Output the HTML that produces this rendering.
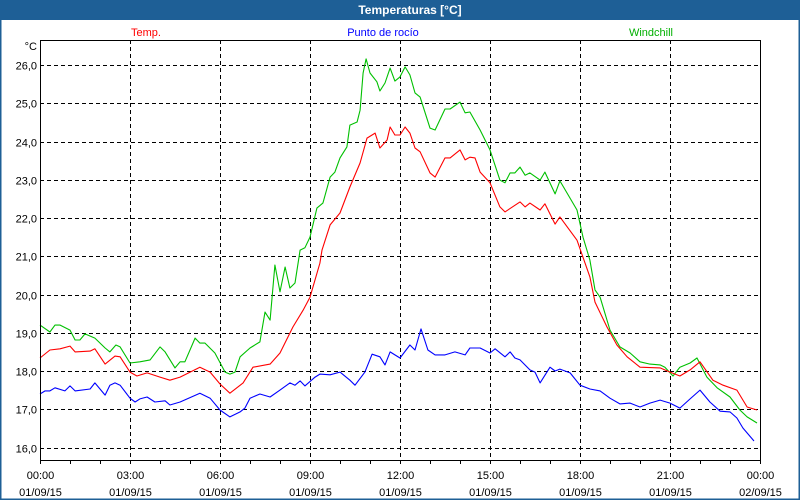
<!DOCTYPE html>
<html><head><meta charset="utf-8"><style>
html,body{margin:0;padding:0;background:#fff;}
#wrap{position:relative;width:800px;height:500px;overflow:hidden;font-family:"Liberation Sans",sans-serif;}
</style></head><body>
<div id="wrap">
<svg id="chart" width="800" height="500" xmlns="http://www.w3.org/2000/svg">
  <rect x="0" y="0" width="800" height="500" fill="#fff"/>
  <rect x="0.5" y="0.5" width="799" height="499" fill="none" stroke="#1e5f96" stroke-width="2"/>
  <rect x="0" y="0" width="800" height="20" fill="#1e5f96"/>
  <text x="410" y="14" text-anchor="middle" font-size="12" font-weight="bold" fill="#fff">Temperaturas [°C]</text>
  <text x="146" y="36" text-anchor="middle" font-size="11" fill="#ff0000">Temp.</text>
  <text x="383" y="36" text-anchor="middle" font-size="11" fill="#0000ff">Punto de rocío</text>
  <text x="651" y="36" text-anchor="middle" font-size="11" fill="#00b000">Windchill</text>
  <text x="37" y="50" text-anchor="end" font-size="11" fill="#000">°C</text>
  <g id="grid"></g>
  <g id="series"></g>
  <g id="axes"></g>
</svg>
</div>
<script>
const yTicks = [16, 17, 18, 19, 20, 21, 22, 23, 24, 25, 26];
const yTickLabels = ["16,0","17,0","18,0","19,0","20,0","21,0","22,0","23,0","24,0","25,0","26,0"];
const xTicks = [0, 3, 6, 9, 12, 15, 18, 21, 24];
const xTickTimes = ["00:00","03:00","06:00","09:00","12:00","15:00","18:00","21:00","00:00"];
const xTickDates = ["01/09/15","01/09/15","01/09/15","01/09/15","01/09/15","01/09/15","01/09/15","01/09/15","02/09/15"];

const tempHours = [0,0.33,0.67,1,1.17,1.67,1.83,2.17,2.5,2.67,3,3.23,3.57,4,4.33,4.67,5.33,5.67,6,6.33,6.77,7.1,7.67,8,8.43,8.77,9,9.33,9.4,9.67,10,10.33,10.67,10.9,11.17,11.33,11.57,11.67,11.83,12,12.17,12.33,12.5,12.67,13,13.17,13.5,13.67,14,14.17,14.33,14.5,14.67,15,15.33,15.5,16,16.17,16.33,16.67,16.83,17.17,17.33,17.9,18.33,18.5,18.9,19.23,19.57,20,20.67,21,21.33,21.67,22,22.43,22.77,23.23,23.57,23.9];
const tempValues = [18.34,18.55,18.58,18.65,18.5,18.52,18.58,18.18,18.39,18.37,17.97,17.87,17.95,17.84,17.76,17.84,18.1,17.97,17.66,17.42,17.69,18.1,18.18,18.47,19.15,19.59,19.93,20.82,21.16,21.82,22.13,22.81,23.44,24.09,24.22,23.83,24.04,24.38,24.17,24.17,24.38,24.22,23.83,23.73,23.18,23.07,23.57,23.57,23.78,23.52,23.59,23.57,23.2,22.92,22.29,22.16,22.42,22.29,22.39,22.21,22.37,21.84,22.03,21.42,20.46,19.8,19.15,18.68,18.37,18.1,18.08,17.97,17.87,18.03,18.24,17.76,17.63,17.5,17.06,16.98];

const windHours = [0,0.33,0.5,0.67,1,1.17,1.33,1.5,1.83,2.17,2.33,2.53,2.67,3,3.33,3.67,4,4.17,4.5,4.67,4.83,5.17,5.33,5.5,5.83,6.17,6.33,6.5,6.67,7,7.33,7.5,7.67,7.83,8,8.17,8.33,8.5,8.67,8.83,9,9.23,9.43,9.67,9.83,10,10.23,10.33,10.57,10.67,10.77,10.87,11,11.23,11.33,11.5,11.67,11.83,12,12.17,12.33,12.5,12.67,13,13.17,13.5,13.67,14,14.17,14.33,14.67,15,15.33,15.5,15.67,15.83,16,16.17,16.33,16.67,16.83,17.17,17.33,17.57,17.9,18.1,18.33,18.5,18.67,19,19.33,19.67,20,20.33,20.67,20.83,21.1,21.33,21.67,21.9,22.23,22.57,23,23.33,23.57,23.9];
const windValues = [19.2,19.02,19.2,19.2,19.07,18.81,18.81,18.97,18.86,18.6,18.5,18.68,18.63,18.21,18.24,18.29,18.63,18.5,18.08,18.24,18.24,18.86,18.73,18.73,18.47,17.97,17.92,17.97,18.37,18.6,18.76,19.54,19.33,20.77,20.07,20.72,20.17,20.3,21.16,21.22,21.5,22.26,22.39,23.07,23.2,23.57,23.86,24.43,24.51,24.82,25.79,26.16,25.79,25.56,25.32,25.53,25.92,25.58,25.69,25.95,25.74,25.27,25.16,24.35,24.3,24.85,24.85,25.03,24.75,24.77,24.3,23.78,22.99,22.92,23.18,23.18,23.33,23.12,23.18,22.99,23.2,22.63,22.97,22.65,22.21,21.5,20.9,20.12,19.93,19.07,18.63,18.47,18.24,18.18,18.16,18.1,17.87,18.1,18.21,18.34,17.84,17.56,17.32,16.98,16.8,16.64];

const dewHours = [0,0.17,0.33,0.5,0.83,1,1.17,1.67,1.83,2.17,2.33,2.5,2.67,3,3.17,3.33,3.57,3.83,4.17,4.33,4.67,5.33,5.67,6,6.33,6.67,6.83,7,7.33,7.67,8,8.33,8.5,8.67,8.83,9.17,9.33,9.67,10,10.33,10.5,10.83,11.07,11.33,11.5,11.67,11.83,12,12.33,12.5,12.7,12.93,13.17,13.5,13.83,14.17,14.33,14.67,15,15.17,15.5,15.67,15.83,16,16.33,16.5,16.67,17,17.17,17.33,17.67,18,18.33,18.67,19,19.33,19.67,20,20.33,20.67,21,21.33,21.67,22,22.33,22.67,23,23.23,23.43,23.8];
const dewValues = [17.4,17.48,17.48,17.56,17.48,17.61,17.48,17.53,17.69,17.37,17.63,17.69,17.63,17.29,17.19,17.27,17.32,17.19,17.22,17.11,17.19,17.42,17.29,16.98,16.8,16.93,17.03,17.29,17.4,17.32,17.5,17.69,17.63,17.74,17.61,17.84,17.92,17.9,17.97,17.76,17.63,17.97,18.44,18.37,18.16,18.5,18.42,18.34,18.68,18.55,19.1,18.55,18.42,18.42,18.5,18.42,18.6,18.6,18.47,18.58,18.37,18.5,18.34,18.29,18.03,17.97,17.69,18.1,18.0,18.05,17.95,17.63,17.53,17.48,17.29,17.14,17.16,17.06,17.16,17.24,17.16,17.03,17.27,17.5,17.19,16.95,16.93,16.77,16.51,16.17];

const X0 = 40, X1 = 760, Y26 = 65, PX_PER_DEG = 38.25, PLOT_TOP = 40, PLOT_BOTTOM = 460;
function xScale(h){ return X0 + h * (X1 - X0) / 24; }
function yScale(v){ return Y26 + (26 - v) * PX_PER_DEG; }
const NS = "http://www.w3.org/2000/svg";
function mk(tag, attrs, parent){ const e = document.createElementNS(NS, tag); for (const k in attrs) e.setAttribute(k, attrs[k]); parent.appendChild(e); return e; }

const grid = document.getElementById('grid');
const axes = document.getElementById('axes');
const series = document.getElementById('series');

yTicks.forEach((v, i) => {
  const y = Math.round(yScale(v)) + 0.5;
  const l = mk('line', {x1: X0, x2: X1, y1: y, y2: y, stroke: '#000', 'stroke-dasharray': '4,3', 'stroke-width': 1}, grid);
  
  
  const t = mk('text', {x: 37, y: y + 4, 'text-anchor': 'end', 'font-size': 11, fill: '#000'}, axes);
  t.textContent = yTickLabels[i];
  
  
});
xTicks.forEach((h, i) => {
  const x = Math.round(xScale(h)) + 0.5;
  if (i > 0 && i < xTicks.length - 1) {
    const l = mk('line', {x1: x, x2: x, y1: PLOT_TOP, y2: PLOT_BOTTOM, stroke: '#000', 'stroke-dasharray': '4,3', 'stroke-width': 1}, grid);
    
    
  }
  const t1 = mk('text', {x: x, y: 479, 'text-anchor': 'middle', 'font-size': 11, fill: '#000'}, axes);
  t1.textContent = xTickTimes[i];
  
  
  const t2 = mk('text', {x: x, y: 496, 'text-anchor': 'middle', 'font-size': 11, fill: '#000'}, axes);
  t2.textContent = xTickDates[i];
  
  
});
for (let h = 0; h <= 24; h++) {
  const x = Math.round(xScale(h)) + 0.5;
  const tk = mk('line', {x1: x, x2: x, y1: PLOT_BOTTOM, y2: PLOT_BOTTOM + 4, stroke: '#000'}, axes);
  
  
}
const frame = mk('rect', {x: X0 + 0.5, y: PLOT_TOP + 0.5, width: X1 - X0, height: PLOT_BOTTOM - PLOT_TOP, fill: 'none', stroke: '#000', 'stroke-width': 1}, axes);



function drawLine(hours, values, color, name){
  const pts = hours.map((h, i) => xScale(h).toFixed(1) + ',' + yScale(values[i]).toFixed(1)).join(' ');
  const p = mk('polyline', {points: pts, fill: 'none', stroke: color, 'stroke-width': 1.1, 'stroke-linejoin': 'round'}, series);
  
  
}
drawLine(dewHours, dewValues, '#0000ff', 'dew-point-line');
drawLine(windHours, windValues, '#00c000', 'windchill-line');
drawLine(tempHours, tempValues, '#ff0000', 'temp-line');
</script>
</body></html>
